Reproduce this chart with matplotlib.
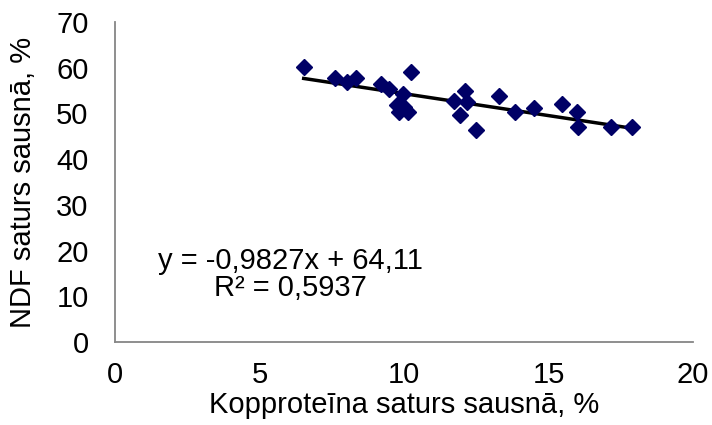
import numpy as np
import matplotlib.pyplot as plt

plt.rcParams['font.family'] = ['Liberation Sans', 'DejaVu Sans']

# Kopproteīna saturs sausnā, % vs NDF saturs sausnā, %
protein = [6.53, 7.61, 8.04, 8.35, 9.21, 9.48, 10.25, 9.98, 9.75, 9.82, 10.13, 10.0,
           11.73, 12.11, 12.19, 11.94, 12.49, 13.29, 13.84, 14.51, 15.48, 15.98, 16.03,
           17.15, 17.90]
ndf = [60.2, 57.7, 56.9, 57.8, 56.5, 55.3, 59.1, 54.3, 51.9, 50.2, 50.4, 51.3,
       52.8, 54.8, 52.4, 49.6, 46.3, 53.7, 50.2, 51.1, 52.0, 50.4, 47.0,
       47.1, 47.0]
trend_label = 'y = -0,9827x + 64,11\nR² = 0,5937'

fig = plt.figure(figsize=(7.12, 4.25), dpi=100)
ax = fig.add_axes([0.1615, 0.1953, 0.8118, 0.753])

ax.plot(protein, ndf, 'D', color='#000066', ms=8.5, zorder=3)

# linear trend line
k, b = np.polyfit(protein, ndf, 1)
xs = np.array([min(protein), max(protein)])
ax.plot(xs, k * xs + b, color='black', lw=2.5, zorder=2)

ax.text(0.304, 0.212, trend_label, transform=ax.transAxes, fontsize=21,
        ha='center', va='center', multialignment='center', linespacing=0.95)

ax.set_xlim(0, 20)
ax.set_ylim(0, 70)
ax.set_xticks([0, 5, 10, 15, 20])
ax.set_yticks(range(0, 71, 10))
ax.tick_params(labelsize=21, length=0)
ax.tick_params(axis='x', pad=14)
ax.tick_params(axis='y', pad=19)
for s in ['top', 'right']:
    ax.spines[s].set_visible(False)
for s in ['left', 'bottom']:
    ax.spines[s].set_color('#868686')
    ax.spines[s].set_linewidth(1.3)
ax.set_xlabel('Kopproteīna saturs sausnā, %', fontsize=21, labelpad=1)
ax.set_ylabel('NDF saturs sausnā, %', fontsize=21, labelpad=14)

fig.savefig('out.png')
